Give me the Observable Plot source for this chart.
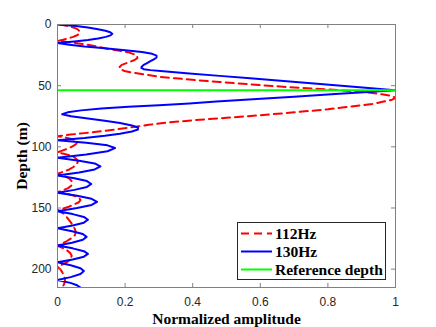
<!DOCTYPE html>
<html><head><meta charset="utf-8">
<script src="https://cdn.jsdelivr.net/npm/d3@7"></script>
<script src="https://cdn.jsdelivr.net/npm/@observablehq/plot@0.6"></script>
<style>
html,body{margin:0;padding:0;background:#fff;}
#wrap{position:relative;width:436px;height:327px;}
#legend{position:absolute;left:237px;top:222px;}
</style></head><body><div id="wrap"></div>
<script>
// [depth (m), normalized amplitude]
const amp112 = [
[0,0.005],[1.1,0.03],[2.3,0.045],[3.4,0.056],[4.5,0.062],[5.6,0.065],[6.8,0.066],[7.9,0.063],[9,0.056],[10.1,0.046],[11.3,0.032],[12.4,0.017],[13.5,0],
[15,0.05],[16.5,0.09],[18,0.115],[19.8,0.147],[21.3,0.18],[22.8,0.21],[24.5,0.228],[26,0.236],[27.5,0.236],[29,0.228],[31,0.21],[33,0.19],[35,0.183],[36.5,0.186],[38,0.198],[39.5,0.225],[41,0.262],[42.8,0.3],[44,0.35],[45.5,0.41],[47,0.48],[49.6,0.6],[51.5,0.7],[53.1,0.8],[55,0.9],[57,0.96],[58.5,0.99],[60,1],[61.5,0.99],[63,0.965],[65,0.93],[67,0.87],[69.3,0.8],[71.8,0.7],[74.2,0.6],[76.3,0.5],[78.3,0.4],[80.3,0.32],[82,0.27],[83.8,0.226],[85.5,0.18],[87.3,0.127],[88.8,0.08],[90,0.038],[91.4,0],
[92.5,0.025],[93.6,0.042],[94.7,0.053],[96,0.058],[97.5,0.056],[99,0.048],[100.5,0.038],[102,0.025],[103.3,0.012],[104.5,0],
[106.5,0.03],[108.5,0.05],[110.5,0.058],[112.5,0.06],[114.5,0.056],[116.5,0.047],[118.5,0.035],[120.3,0.018],[122,0],
[124,0.022],[126,0.035],[128,0.042],[130,0.044],[132,0.04],[134,0.03],[135.5,0.017],[137,0],
[138.5,0.03],[140,0.05],[141.8,0.064],[143.5,0.068],[145.3,0.063],[147,0.05],[148.8,0.035],[150.4,0.018],[152,0],
[154.5,0.018],[157,0.026],[159.5,0.033],[162,0.04],[164.5,0.046],[167,0.051],[169.5,0.054],[172,0.052],[174.5,0.042],[177,0.028],[179,0.014],[181,0],
[183,0.018],[185,0.03],[187,0.038],[189,0.042],[191,0.04],[193,0.034],[195,0.024],[196.5,0.012],[198,0],
[200,0.008],[202,0.013],[204,0.017],[206,0.02],[208,0.022],[210,0.022],[212,0.02],[214,0.016],[215,0.014]
];
const amp130 = [
[0,0],[1.3,0.055],[2.5,0.09],[3.8,0.12],[5.1,0.142],[6.3,0.156],[7.6,0.162],[8.9,0.157],[10.1,0.143],[11.4,0.12],[12.7,0.09],[13.9,0.05],[15.2,0],
[16.5,0.035],[18,0.08],[19.5,0.14],[21,0.2],[22.5,0.25],[24,0.28],[25.5,0.293],[27,0.293],[28.5,0.285],[30,0.275],[31.5,0.265],[33,0.255],[34.5,0.249],[35.5,0.248],[36.5,0.255],[37.3,0.275],[38,0.305],[40,0.39],[42,0.48],[44,0.57],[46,0.66],[48,0.75],[50,0.84],[52,0.92],[53.7,1],
[55,0.93],[57,0.81],[59,0.70],[61,0.59],[63,0.47],[64.5,0.39],[66,0.3],[67.3,0.21],[68.7,0.13],[70.2,0.07],[71.8,0.03],[73.4,0.014],[75,0.04],[76.8,0.09],[78.7,0.14],[80.6,0.185],[82.5,0.22],[84.2,0.238],[85.8,0.238],[87.5,0.22],[89.3,0.185],[91,0.14],[92.8,0.08],[94.7,0],
[96.7,0.085],[98.8,0.148],[101,0.17],[103.6,0.148],[106.2,0.085],[108.9,0],
[111.3,0.064],[113.6,0.11],[116,0.127],[118.5,0.11],[121,0.064],[123.4,0],
[125.7,0.05],[128,0.087],[130.4,0.1],[132.8,0.087],[135.2,0.05],[137.5,0],
[140,0.058],[142.5,0.101],[145,0.117],[147.5,0.101],[150,0.058],[152.6,0],
[155,0.045],[157.3,0.078],[159.6,0.09],[162,0.078],[164.3,0.045],[166.6,0],
[169,0.043],[171.3,0.075],[173.6,0.086],[176,0.075],[178.4,0.043],[180.7,0],
[183,0.045],[185.3,0.078],[187.5,0.09],[189.8,0.078],[192.1,0.045],[194.4,0],
[196.8,0.039],[199.2,0.068],[201.6,0.078],[204,0.068],[206.5,0.039],[208.9,0],
[211.2,0.038],[213.2,0.058],[215,0.068]
];
const referenceDepth = [53.8];
const depthDomain = [0, 215];
const xTicks = [0, 0.2, 0.4, 0.6, 0.8, 1];
const yTicks = [0, 50, 100, 150, 200];
const seriesNames = ["112Hz", "130Hz", "Reference depth"];
const xLabel = "Normalized amplitude";
const yLabel = "Depth (m)";

const W = 436, H = 327, mL = 57, mR = 41, mT = 24, mB = 40;
const fw = W - mL - mR, fh = H - mT - mB, tk = 4;
const axisColor = "#808080";
const labelFont = "'Liberation Serif', 'Times New Roman', serif";

const chart = Plot.plot({
  width: W, height: H,
  marginLeft: mL, marginRight: mR, marginTop: mT, marginBottom: mB,
  style: {fontFamily: "'Liberation Sans', Arial, sans-serif", fontSize: "12px", color: "#262626", background: "white"},
  x: {domain: [0, 1]},
  y: {domain: depthDomain, reverse: true},
  marks: [
    Plot.line(amp112, {x: d => d[1], y: d => d[0], stroke: "#ff0000", strokeWidth: 2, strokeDasharray: "8,5", clip: true}),
    Plot.line(amp130, {x: d => d[1], y: d => d[0], stroke: "#0000ff", strokeWidth: 2, clip: true}),
    Plot.ruleY(referenceDepth, {stroke: "#00ff00", strokeWidth: 2}),
    Plot.frame({stroke: axisColor}),
    Plot.tickY(yTicks, {y: d => d, insetRight: fw - tk, stroke: axisColor}),
    Plot.tickY(yTicks, {y: d => d, insetLeft: fw - tk, stroke: axisColor}),
    Plot.tickX(xTicks, {x: d => d, insetTop: fh - tk, stroke: axisColor}),
    Plot.tickX(xTicks, {x: d => d, insetBottom: fh - tk, stroke: axisColor}),
    Plot.axisX(xTicks, {tickSize: 0, tickPadding: 10, tickFormat: d => String(d), label: null}),
    Plot.axisY(yTicks, {tickSize: 0, tickPadding: 6, label: null}),
    Plot.text([xLabel], {frameAnchor: "bottom", dy: 36, lineAnchor: "bottom", fontFamily: labelFont, fontWeight: "bold", fontSize: 15.5, fill: "#000"}),
    Plot.text([yLabel], {frameAnchor: "left", dx: -31, rotate: -90, lineAnchor: "bottom", textAnchor: "middle", fontFamily: labelFont, fontWeight: "bold", fontSize: 15.5, fill: "#000"})
  ]
});
const wrap = document.getElementById("wrap");
wrap.appendChild(chart);

// legend
const ns = "http://www.w3.org/2000/svg";
const lg = document.createElementNS(ns, "svg");
lg.setAttribute("id", "legend");
lg.setAttribute("width", 150); lg.setAttribute("height", 59);
const styles = [
  {stroke: "#ff0000", dash: "8,5"},
  {stroke: "#0000ff", dash: null},
  {stroke: "#00ff00", dash: null}
];
let inner = `<rect x="0.5" y="0.5" width="148" height="57" fill="white" stroke="#262626" stroke-width="1"/>`;
seriesNames.forEach((name, i) => {
  const cy = 11.5 + i * 18;
  inner += `<line x1="4" x2="35" y1="${cy}" y2="${cy}" stroke="${styles[i].stroke}" stroke-width="2" ${styles[i].dash ? `stroke-dasharray="${styles[i].dash}"` : ""}/>`;
  inner += `<text x="38" y="${cy + 5}" font-family="${labelFont.replace(/'/g, "&apos;")}" font-weight="bold" font-size="15.5" fill="#000">${name}</text>`;
});
lg.innerHTML = inner;
wrap.appendChild(lg);
</script></body></html>
